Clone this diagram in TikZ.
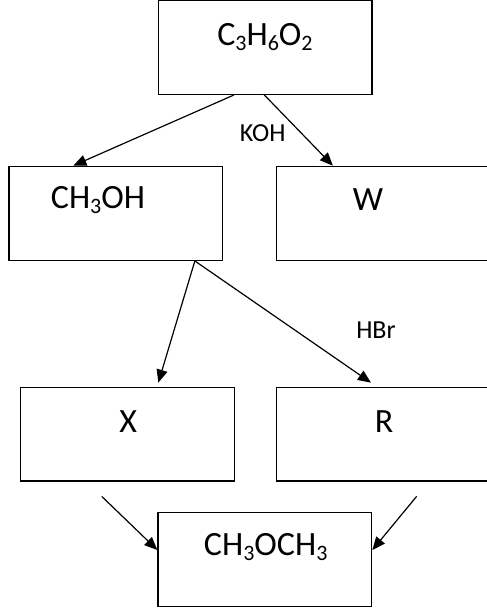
\documentclass[tikz,border=0pt]{standalone}
\usepackage{fontspec}
\setmainfont{Carlito}
\usetikzlibrary{arrows.meta}
% chemical subscript, set smaller and lowered
\newcommand{\chsub}[1]{\raisebox{-0.32ex}{\fontsize{22}{22}\selectfont #1}}
\begin{document}
\begin{tikzpicture}[x=1pt,y=-1pt,
  box/.style={draw, line width=1.3pt, rectangle, inner sep=0pt},
  big/.style={font=\fontsize{34}{36}\selectfont, inner sep=0pt},
  small/.style={font=\fontsize{26}{30}\selectfont, inner sep=0pt},
  arr/.style={line width=1.2pt, -{Triangle[length=13pt,width=11pt]}}]
\useasboundingbox (0,0) rectangle (487,611);

% boxes
\node[box, minimum width=213.7pt, minimum height=93.8pt] (top) at (265,47.4) {};
\node[box, minimum width=213.7pt, minimum height=94pt] (alc) at (115.85,213.3) {};
\node[box, minimum width=215.7pt, minimum height=94pt] (w) at (384.15,213.3) {};
\node[box, minimum width=213.6pt, minimum height=93.7pt] (x) at (127.5,434.15) {};
\node[box, minimum width=215.7pt, minimum height=93.7pt] (r) at (384.15,434.15) {};
\node[box, minimum width=213.7pt, minimum height=94.4pt] (eth) at (264.85,559.5) {};

% box texts
\node[big] (ttop) at (265,37) {C\chsub{3}H\chsub{6}O\chsub{2}};
\node[big] (talc) at (98,200) {CH\chsub{3}OH};
\node[big] (tw) at (368,200) {W};
\node[big] (tx) at (128.3,421.7) {X};
\node[big] (tr) at (384,421.7) {R};
\node[big] (teth) at (265.7,546.7) {CH\chsub{3}OCH\chsub{3}};

% reagent labels
\node[small] (koh) at (262.7,132.7) {KOH};
\node[small] (hbr) at (376,330) {HBr};

% connectors (shifts are in canvas units: positive yshift is upwards)
\draw[arr] ([xshift=-31pt]top.south) -- ([xshift=-42.5pt]alc.north);
\draw[arr] ([xshift=-0.7pt]top.south) -- ([xshift=-51.3pt]w.north);
\draw[arr] ([xshift=79pt]alc.south) -- ([xshift=30.8pt,yshift=4pt]x.north);
\draw[arr] ([xshift=79pt]alc.south) -- ([xshift=-13.2pt,yshift=4pt]r.north);
\coordinate (xs) at ([xshift=-25.8pt,yshift=-14.7pt]x.south);
\coordinate (rs) at ([xshift=32.5pt,yshift=-14.7pt]r.south);
\draw[arr] (xs) -- ([yshift=9.5pt]eth.west);
\draw[arr] (rs) -- ([yshift=9.5pt]eth.east);
\end{tikzpicture}
\end{document}
